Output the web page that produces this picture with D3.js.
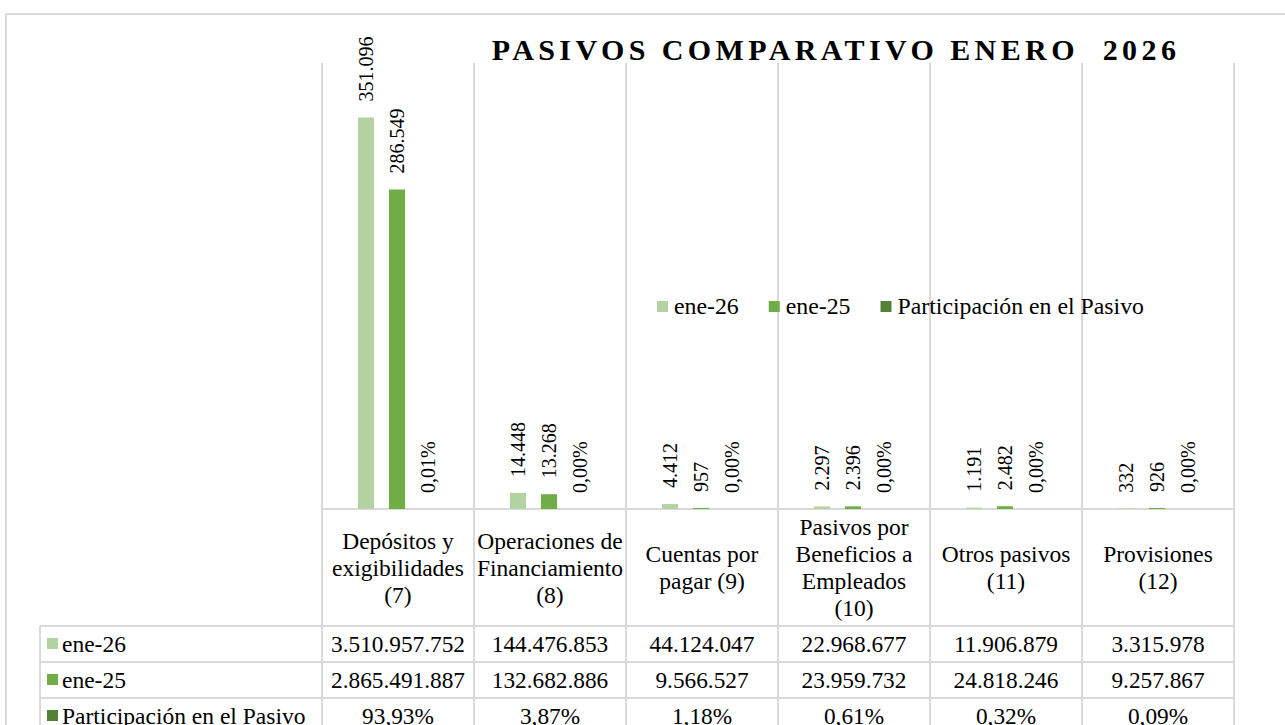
<!DOCTYPE html>
<html>
<head>
<meta charset="utf-8">
<script src="https://cdn.jsdelivr.net/npm/d3@7"></script>
<style>
  html, body { margin: 0; padding: 0; background: #fff; }
  svg { display: block; }
</style>
</head>
<body>
<svg id="pasivos" width="1285" height="725"></svg>
<script>
// ── Data ──
const categories = [
  ["Depósitos y", "exigibilidades", "(7)"],
  ["Operaciones de", "Financiamiento", "(8)"],
  ["Cuentas por", "pagar (9)"],
  ["Pasivos por", "Beneficios a", "Empleados", "(10)"],
  ["Otros pasivos", "(11)"],
  ["Provisiones", "(12)"]
];
const seriesNames = ["ene-26", "ene-25", "Participación en el Pasivo"];
const ene26 = [3510957752, 144476853, 44124047, 22968677, 11906879, 3315978];
const ene25 = [2865491887, 132682886, 9566527, 23959732, 24818246, 9257867];
const participacion = [93.93, 3.87, 1.18, 0.61, 0.32, 0.09];
const yTicks = [0, 400000];   // range of the (hidden) value axis

const colors = ["#b4d3a5", "#70ad47", "#548235"];
const gridColor = "#d9d9d9";
const FONT = '"Liberation Serif", "Times New Roman", serif';

// chart labels use a "divide by 10.000" number format, like the source workbook
const locale = d3.formatLocale({ decimal: ",", thousands: ".", grouping: [3], currency: ["$", ""] });
const fmtInt = locale.format(",.0f");
const fmtPct = locale.format(".2f");

const svg = d3.select("#pasivos");

// every text gets the serif face inline
function txt(parent) {
  return parent.append("text").attr("font-family", FONT).style("font-family", FONT);
}

// outer chart border
svg.append("rect").attr("x", 6).attr("y", 14).attr("width", 1300).attr("height", 740)
  .attr("fill", "#fff").attr("stroke", gridColor).attr("stroke-width", 2);

// ── Scales ──
const plotTop = 63, plotBottom = 509, plotLeft = 322, plotRight = 1234;
const x0 = d3.scaleBand().domain(d3.range(categories.length)).range([plotLeft, plotRight]);
const x1 = d3.scaleBand().domain(d3.range(seriesNames.length))
  .range([28.5, x0.bandwidth() - 30.5]).paddingInner(0.48).paddingOuter(0.24);
const y = d3.scaleLinear().domain(d3.extent(yTicks)).range([plotBottom, plotTop]);

// per-series values as the chart plots them
const chartVals = [
  ene26.map(v => v / 10000),
  ene25.map(v => v / 10000),
  participacion.map(v => v / 10000)
];
const chartText = [
  chartVals[0].map(fmtInt),
  chartVals[1].map(fmtInt),
  chartVals[2].map(v => fmtPct(v) + "%")
];

// ── Title ──
txt(svg).attr("x", 836).attr("y", 60).attr("text-anchor", "middle")
  .attr("font-size", 30).attr("font-weight", "bold").attr("letter-spacing", 4.4)
  .text("PASIVOS COMPARATIVO ENERO\u00a0 2026");

// ── Vertical grid lines (category boundaries, running through the table) ──
const bounds = x0.domain().map(i => x0(i)).concat([plotRight]);
svg.append("g").selectAll("line").data(bounds).join("line")
  .attr("x1", d => d).attr("x2", d => d).attr("y1", plotTop).attr("y2", 740)
  .attr("stroke", gridColor).attr("stroke-width", 2);

// ── Table horizontal lines ──
const rowTop = 626, rowH = 36;
svg.append("line").attr("x1", plotLeft).attr("x2", plotRight).attr("y1", plotBottom).attr("y2", plotBottom)
  .attr("stroke", gridColor).attr("stroke-width", 2);
svg.append("g").selectAll("line").data(d3.range(4)).join("line")
  .attr("x1", 40).attr("x2", plotRight)
  .attr("y1", i => rowTop + i * rowH).attr("y2", i => rowTop + i * rowH)
  .attr("stroke", gridColor).attr("stroke-width", 2);
svg.append("line").attr("x1", 40).attr("x2", 40).attr("y1", rowTop).attr("y2", 740)
  .attr("stroke", gridColor).attr("stroke-width", 2);

// ── Bars ──
const barG = svg.append("g");
chartVals.forEach((vals, s) => {
  barG.append("g").selectAll("rect").data(vals).join("rect")
    .attr("x", (d, i) => x0(i) + x1(s))
    .attr("width", x1.bandwidth())
    .attr("y", d => y(d))
    .attr("height", d => plotBottom - y(d))
    .attr("fill", colors[s]);
});

// ── Data labels (rotated) ──
const labG = svg.append("g");
chartVals.forEach((vals, s) => {
  vals.forEach((d, i) => {
    const cx = x0(i) + x1(s) + x1.bandwidth() / 2;
    txt(labG).attr("font-size", 20)
      .attr("transform", `translate(${cx},${y(d) - 16}) rotate(-90)`)
      .attr("dy", "0.35em")
      .text(chartText[s][i]);
  });
});

// ── Legend ──
const legend = svg.append("g");
let lx = 657;
seriesNames.forEach((name, s) => {
  legend.append("rect").attr("x", lx).attr("y", 301).attr("width", 11).attr("height", 11).attr("fill", colors[s]);
  const t = txt(legend).attr("x", lx + 17).attr("y", 314).attr("font-size", 23.8).text(name);
  lx += 17 + t.node().getComputedTextLength() + 30;
});

// ── Table: category headers ──
const lineH = 27;
const hdr = svg.append("g");
categories.forEach((lines, i) => {
  const cx = x0(i) + x0.bandwidth() / 2;
  const mid = (plotBottom + rowTop) / 2;
  lines.forEach((ln, k) => {
    txt(hdr).attr("x", cx)
      .attr("y", mid + (k - (lines.length - 1) / 2) * lineH)
      .attr("dy", "0.35em").attr("text-anchor", "middle")
      .attr("font-size", 23.5).text(ln);
  });
});

// ── Table: data rows ──
const tableRows = [
  ene26.map(fmtInt),
  ene25.map(fmtInt),
  participacion.map(v => fmtPct(v) + "%")
];
const rows = svg.append("g");
tableRows.forEach((vals, r) => {
  const cy = rowTop + r * rowH + rowH / 2;
  rows.append("rect").attr("x", 47).attr("y", cy - 6).attr("width", 11).attr("height", 11).attr("fill", colors[r]);
  txt(rows).attr("x", 62).attr("y", cy).attr("dy", "0.35em")
    .attr("font-size", 23.5).text(seriesNames[r]);
  vals.forEach((d, i) => {
    txt(rows).attr("x", x0(i) + x0.bandwidth() / 2)
      .attr("y", cy).attr("dy", "0.35em").attr("text-anchor", "middle")
      .attr("font-size", 23.3).text(d);
  });
});
</script>
</body>
</html>
